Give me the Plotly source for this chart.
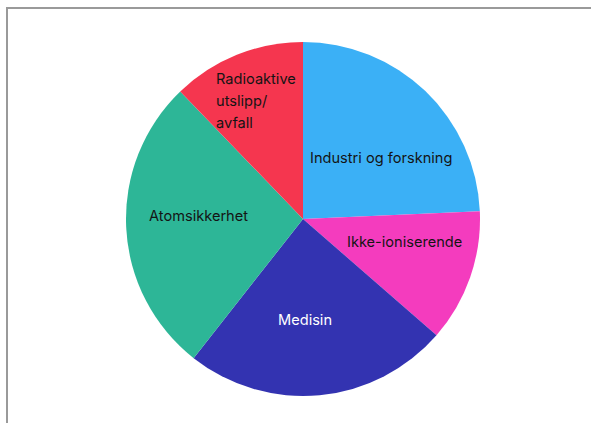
import plotly.graph_objects as go

categories = ["Industri og forskning", "Ikke-ioniserende", "Medisin", "Atomsikkerhet", "Radioaktive utslipp/avfall"]
values = [24.3, 12.1, 24.2, 27.2, 12.2]
colors = ["#3BB0F6", "#F43CBE", "#3333B1", "#2DB697", "#F5364F"]
radio_lines = ["Radioaktive", "utslipp/", "avfall"]

W, H = 591, 423
fig = go.Figure()
fig.add_trace(go.Pie(
    labels=categories, values=values, sort=False, direction="clockwise", rotation=0,
    marker=dict(colors=colors, line=dict(width=0)),
    textinfo="none", hoverinfo="label+percent", showlegend=False,
    domain=dict(x=[126/W, 480/W], y=[1-396/H, 1-42/H]),
))

font = dict(family="Inter, Lato, sans-serif", size=14.6, color="#141414")
labels_pos = [
    (categories[0], 381, 158, "#141414"),
    (categories[1], 405, 242, "#141414"),
    (categories[2], 305, 320, "#ffffff"),
    (categories[3], 198, 216, "#141414"),
]
for txt, x, y, col in labels_pos:
    fig.add_annotation(x=x/W, y=1-y/H, xref="paper", yref="paper", text=txt, showarrow=False,
                       xanchor="center", yanchor="middle", font=dict(font, color=col))
for i, line in enumerate(radio_lines):
    fig.add_annotation(x=214/W, y=1-(79 + 22*i)/H, xref="paper", yref="paper",
                       text=line, showarrow=False, xanchor="left", yanchor="middle",
                       align="left", font=font)

fig.add_shape(type="line", xref="paper", yref="paper", x0=6/W, x1=1, y0=1-8/H, y1=1-8/H,
              line=dict(color="#9a9a9a", width=2))
fig.add_shape(type="line", xref="paper", yref="paper", x0=7/W, x1=7/W, y0=0, y1=1-8/H,
              line=dict(color="#9a9a9a", width=2))

fig.update_layout(width=W, height=H, margin=dict(l=0, r=0, t=0, b=0),
                  paper_bgcolor="white", plot_bgcolor="white")
fig.write_html("out.html", config={"displayModeBar": False},
               post_script="document.body.style.margin='0px';document.body.style.overflow='hidden';")
